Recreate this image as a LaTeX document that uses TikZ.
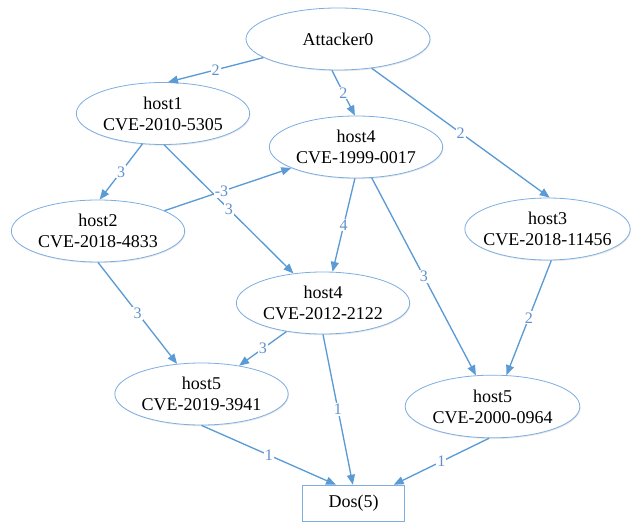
\documentclass[tikz,border=0pt]{standalone}
\usepackage{fontspec}
\setmainfont{Liberation Serif}
\usetikzlibrary{positioning, shapes.geometric, arrows.meta, shadows}
\definecolor{linkblue}{HTML}{5B9BD5}
\definecolor{rimblue}{HTML}{7DAEE2}
\definecolor{wtblue}{HTML}{6090CC}
\tikzset{
    host/.style={
        draw = rimblue, ellipse, fill = white, line width = 0.6pt,
        minimum width = 130pt,
        minimum height = 46.5pt,
        inner sep = 0pt, align = center,
        font = \fontsize{13.5}{15.75}\selectfont,
        drop shadow = {shadow xshift = 0.6pt, shadow yshift = -0.9pt, opacity = 0.18}
    },
    goalbox/.style={
        draw = rimblue, fill = white, line width = 0.6pt,
        minimum width = 77pt, minimum height = 27.5pt,
        font = \fontsize{13.5}{15.75}\selectfont
    },
    link/.style = {draw = linkblue, line width = 1pt, -{Triangle[length = 7.5pt, width = 6pt]}},
    wt/.style = {fill = white, inner sep = 0.8pt, text = wtblue, font = \fontsize{12}{14}\selectfont}
}

\begin{document}
\begin{tikzpicture}[x = 0.75pt, y = -0.75pt]

    \useasboundingbox (0,0) rectangle (631,523);

    \node[host, minimum width = 138pt] (attacker) at (338,39) {Attacker0};
    \node[host] (host1) at (163,113.5) {host1\\CVE-2010-5305};
    \node[host] (host4a) at (356,147) {host4\\CVE-1999-0017};
    \node[host] (host2) at (98,231) {host2\\CVE-2018-4833};
    \node[host, minimum width = 124pt, inner xsep = -4.5pt] (host3) at (547.5,229) {host3\\CVE-2018-11456};
    \node[host] (host4b) at (323,303) {host4\\CVE-2012-2122};
    \node[host] (host5a) at (201.5,394) {host5\\CVE-2019-3941};
    \node[host, minimum width = 131pt, minimum height = 47pt] (host5b) at (492.5,406.5) {host5\\CVE-2000-0964};
    \node[goalbox] (dos) at (353.5,503.5) {Dos(5)};

    \draw[link] (attacker.194) -- node[wt] {2} (host1.81);
    \draw[link] (attacker.259) -- node[wt] {2} (host4a.92);
    \draw[link] (attacker.319) -- node[wt] {2} (host3.86);
    \draw[link] (host1.236) -- node[wt] {3} (host2.87);
    \draw[link] (host1.272) -- node[wt] {3} (host4b.135);
    \draw[link] (host2.17) -- node[wt, pos = 0.45] {-3} (host4a.198);
    \draw[link] (host4a.268) -- node[wt] {4} (host4b.73);
    \draw[link] (host4a.297) -- node[wt] {3} (host5b.118);
    \draw[link] (host3.277) -- node[wt] {2} (host5b.66);
    \draw[link] (host2.270) -- node[wt] {3} (host5a.129);
    \draw[link] (host4b.218) -- node[wt] {3} (host5a.37);
    \draw[link] (host4b.270) -- node[wt] {1} (dos.92);
    \draw[link] (host5a.270) -- node[wt] {1} (dos.133);
    \draw[link] (host5b.264) -- node[wt] {1} (dos.25);

\end{tikzpicture}
\end{document}
